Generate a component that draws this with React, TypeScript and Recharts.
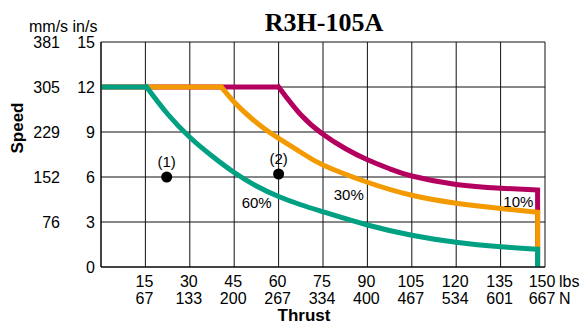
import {
  ComposedChart,
  Line,
  Scatter,
  XAxis,
  YAxis,
  CartesianGrid,
} from 'recharts';

const thrustTicks = [0, 15, 30, 45, 60, 75, 90, 105, 120, 135, 150];
const newtonLabels = ['', '67', '133', '200', '267', '334', '400', '467', '534', '601', '667'];
const speedTicks = [0, 3, 6, 9, 12, 15];
const mmLabels = ['', '76', '152', '229', '305', '381'];

// curves (lbs, in/s)
const green60X = [15.4, 22.5, 30, 37.5, 45, 52.5, 60, 67.5, 75, 90, 105, 120, 135, 147.5];
const green60Y = [12, 10.2, 8.65, 7.4, 6.3, 5.4, 4.7, 4.15, 3.68, 2.8, 2.12, 1.65, 1.35, 1.18];
const orange30X = [40.7, 45, 50, 55, 60, 67.5, 75, 90, 105, 120, 135, 147.5];
const orange30Y = [12, 11.0, 10.05, 9.25, 8.58, 7.65, 6.8, 5.65, 4.78, 4.25, 3.9, 3.65];
const magenta10X = [60, 67.5, 75, 82.5, 90, 97.5, 105, 120, 135, 147.5];
const magenta10Y = [12, 10.15, 8.85, 7.9, 7.15, 6.55, 6.07, 5.5, 5.25, 5.13];

const pointX = [22.2, 60];
const pointY = [6.0, 6.2];
const pointLabels = ['(1)', '(2)'];

const dutyX = [52.6, 83.7, 141];
const dutyY = [4.3, 4.82, 4.33];
const dutyLabels = ['60%', '30%', '10%'];

const FONT = '"Liberation Sans", Arial, sans-serif';
const GREEN = '#00A083';
const ORANGE = '#F29A00';
const MAGENTA = '#B3005E';

const toPoints = (xs: number[], ys: number[]) => xs.map((x, i) => ({ x, y: ys[i] }));

function pieces(xs: number[], ys: number[]) {
  const curve = toPoints(xs, ys);
  const flat = [{ x: 0, y: ys[0] }, { x: xs[0], y: ys[0] }];
  const last = xs.length - 1;
  const drop = [{ x: xs[last], y: ys[last] }, { x: xs[last], y: 0 }];
  return { flat, curve, drop };
}

const series = [
  { key: 'm', color: MAGENTA, ...pieces(magenta10X, magenta10Y) },
  { key: 'o', color: ORANGE, ...pieces(orange30X, orange30Y) },
  { key: 'g', color: GREEN, ...pieces(green60X, green60Y) },
];

const points = pointX.map((x, i) => ({ x, y: pointY[i], label: pointLabels[i] }));
const dutyMarks = dutyX.map((x, i) => ({ x, y: dutyY[i], label: dutyLabels[i] }));

function SpeedTick({ y, payload }: any) {
  const i = speedTicks.indexOf(payload.value);
  return (
    <g fontFamily={FONT} fontSize={16} fill="#000">
      <text x={95} y={y} dy="0.35em" textAnchor="end">{payload.value}</text>
      <text x={60} y={y} dy="0.35em" textAnchor="end">{mmLabels[i]}</text>
    </g>
  );
}

function ThrustTick({ x, payload }: any) {
  const i = thrustTicks.indexOf(payload.value);
  if (i <= 0) return null;
  const isLast = i === thrustTicks.length - 1;
  const cx = isLast ? x - 3 : x - 1;
  return (
    <g fontFamily={FONT} fontSize={16} fill="#000">
      <text x={cx} y={287} textAnchor="middle">{payload.value}</text>
      <text x={cx} y={304} textAnchor="middle">{newtonLabels[i]}</text>
      {isLast && (
        <>
          <text x={cx + 17} y={287}>lbs</text>
          <text x={cx + 17} y={304}>N</text>
        </>
      )}
    </g>
  );
}

const PointShape = (props: any) => (
  <g>
    <circle cx={props.cx} cy={props.cy} r={5.5} fill="#000" />
    <text x={props.cx} y={props.cy - 10} textAnchor="middle" fontFamily={FONT} fontSize={15} fill="#000">
      {props.payload.label}
    </text>
  </g>
);

const DutyShape = (props: any) => (
  <text x={props.cx} y={props.cy} dy="0.35em" textAnchor="middle" fontFamily={FONT} fontSize={15} fill="#000">
    {props.payload.label}
  </text>
);

export default function App() {
  return (
    <div style={{ position: 'absolute', left: 0, top: 0, width: 583, height: 324, background: '#fff' }}>
      <ComposedChart width={583} height={324} margin={{ top: 42, right: 38, left: 0, bottom: 0 }}>
        <CartesianGrid stroke="#111" strokeWidth={1} />
        <XAxis
          type="number"
          dataKey="x"
          domain={[0, 150]}
          ticks={thrustTicks}
          interval={0}
          height={57}
          tickLine={false}
          axisLine={{ stroke: '#000' }}
          tick={<ThrustTick />}
        />
        <YAxis
          type="number"
          dataKey="y"
          domain={[0, 15]}
          ticks={speedTicks}
          interval={0}
          width={101}
          tickLine={false}
          axisLine={{ stroke: '#000' }}
          tick={<SpeedTick />}
        />
        {series.map((s) => [
          <Line
            key={s.key + 'f'}
            data={s.flat}
            dataKey="y"
            type="linear"
            stroke={s.color}
            strokeWidth={5}
            dot={false}
            activeDot={false}
            isAnimationActive={false}
          />,
          <Line
            key={s.key + 'c'}
            data={s.curve}
            dataKey="y"
            type="natural"
            stroke={s.color}
            strokeWidth={5}
            strokeLinecap="square"
            dot={false}
            activeDot={false}
            isAnimationActive={false}
          />,
          <Line
            key={s.key + 'd'}
            data={s.drop}
            dataKey="y"
            type="linear"
            stroke={s.color}
            strokeWidth={5}
            dot={false}
            activeDot={false}
            isAnimationActive={false}
          />,
        ])}
        <Scatter data={points} dataKey="y" shape={<PointShape />} isAnimationActive={false} />
        <Scatter data={dutyMarks} dataKey="y" shape={<DutyShape />} isAnimationActive={false} />
      </ComposedChart>
      <svg
        width={583}
        height={324}
        style={{ position: 'absolute', left: 0, top: 0, pointerEvents: 'none' }}
      >
        <text x={324} y={31} textAnchor="middle" fontFamily='"Liberation Serif", "Times New Roman", serif' fontWeight="bold" fontSize={26}>
          R3H-105A
        </text>
        <text x={29} y={32} fontFamily={FONT} fontSize={16}>mm/s in/s</text>
        <text
          x={0}
          y={0}
          transform="translate(23,128) rotate(-90)"
          textAnchor="middle"
          fontFamily={FONT}
          fontWeight="bold"
          fontSize={17}
        >
          Speed
        </text>
        <text x={304} y={321} textAnchor="middle" fontFamily={FONT} fontWeight="bold" fontSize={17}>
          Thrust
        </text>
      </svg>
    </div>
  );
}
